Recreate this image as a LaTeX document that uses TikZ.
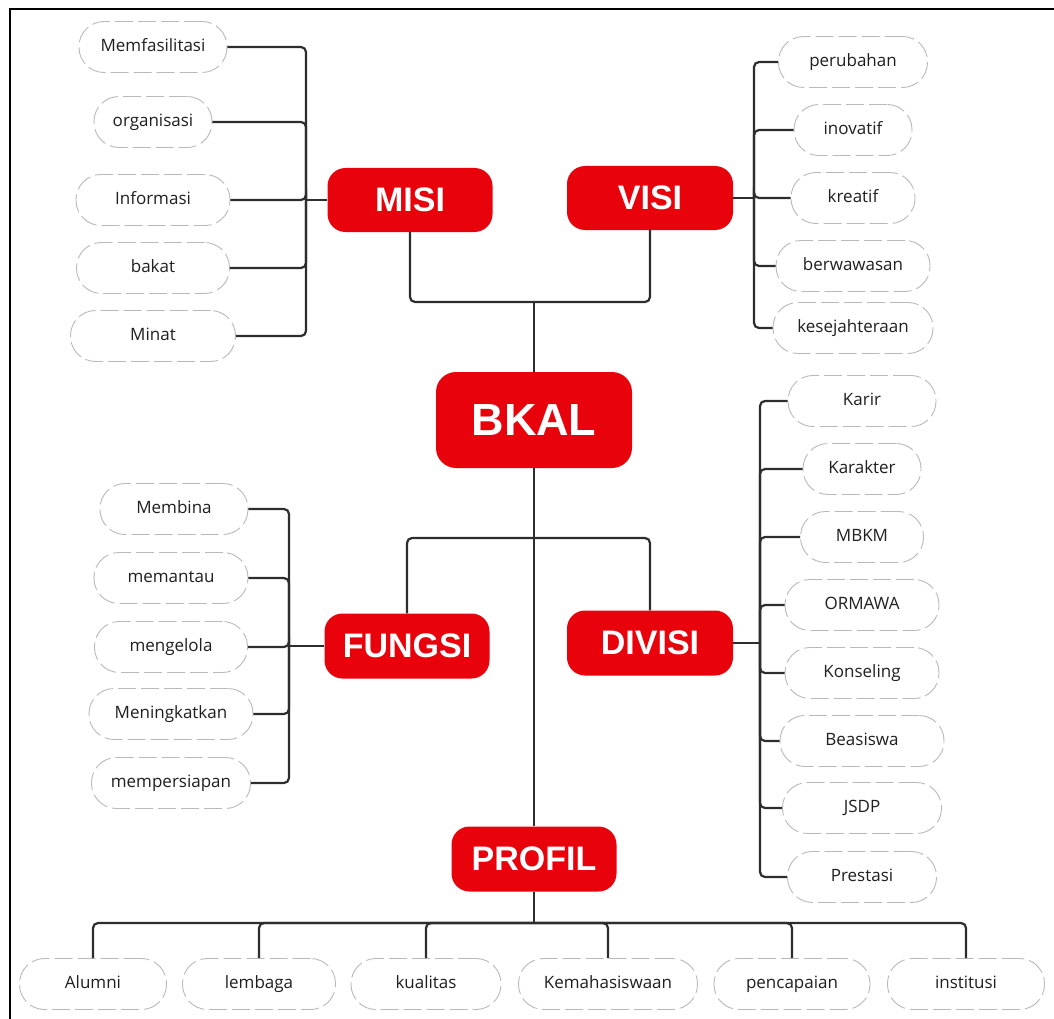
\documentclass[tikz,border=0pt]{standalone}
\usepackage{fontspec}
\setmainfont{Open Sans}
\newfontfamily\headfont{Liberation Sans}
\usepackage{tikz}
\definecolor{bkred}{RGB}{232,2,12}
\definecolor{linkgray}{RGB}{45,45,45}
\definecolor{leafgray}{RGB}{185,185,185}
\tikzstyle{topic}=[fill=bkred,draw=none,rounded corners=18pt,text=white,font=\headfont\bfseries\fontsize{34}{36}\selectfont,minimum height=64,minimum width=165,inner sep=0pt]
\tikzstyle{leaf}=[draw=leafgray,line width=0.9pt,dash pattern=on 18pt off 5pt,rounded corners=25pt,fill=white,text=black!88,font=\fontsize{17}{19}\selectfont,minimum height=51,inner sep=0pt,text height=12.5pt,text depth=4pt]
\tikzstyle{link}=[draw=linkgray,line width=2.2pt,rounded corners=5pt]

\begin{document}
\begin{tikzpicture}[x=1pt,y=-1pt]
\useasboundingbox (0,0) rectangle (1054,1019);
\draw[line width=2pt] (10,1025) -- (10,9) -- (1060,9);
% main boxes
\node[topic] (misi) at (410,200){MISI};
\node[topic,minimum width=166] (visi) at (650,198){VISI};
\node[topic,minimum width=196,minimum height=96,rounded corners=20pt,font=\headfont\bfseries\fontsize{45}{48}\selectfont] (bkal) at (534,420){BKAL};
\node[topic,minimum height=65] (fungsi) at (407,646){FUNGSI};
\node[topic,minimum width=166,minimum height=65] (divisi) at (650,643){DIVISI};
\node[topic,minimum height=65] (profil) at (534,859){PROFIL};
% misi
\node[leaf,minimum width=148] (memfasilitasi) at (153,47){Memfasilitasi};
\node[leaf,minimum width=118] (organisasi) at (153,122){organisasi};
\node[leaf,minimum width=154] (informasi) at (153,200){Informasi};
\node[leaf,minimum width=153] (bakat) at (153,268){bakat};
\node[leaf,minimum width=165] (minat) at (153,336){Minat};
% visi
\node[leaf,minimum width=149] (perubahan) at (853,62){perubahan};
\node[leaf,minimum width=118] (inovatif) at (853,130){inovatif};
\node[leaf,minimum width=124] (kreatif) at (853,198){kreatif};
\node[leaf,minimum width=154] (berwawasan) at (853,266){berwawasan};
\node[leaf,minimum width=160] (kesejahteraan) at (853,328){kesejahteraan};
% fungsi
\node[leaf,minimum width=148] (membina) at (174,509){Membina};
\node[leaf,minimum width=154] (memantau) at (171,578){memantau};
\node[leaf,minimum width=153] (mengelola) at (171,647){mengelola};
\node[leaf,minimum width=164] (meningkatkan) at (171,714){Meningkatkan};
\node[leaf,minimum width=159] (mempersiapan) at (171,783){mempersiapan};
% divisi
\node[leaf,minimum width=148] (karir) at (862,401){Karir};
\node[leaf,minimum width=118] (karakter) at (862,469){Karakter};
\node[leaf,minimum width=123] (mbkm) at (862,537){MBKM};
\node[leaf,minimum width=154] (ormawa) at (862,605){ORMAWA};
\node[leaf,minimum width=154] (konseling) at (862,673){Konseling};
\node[leaf,minimum width=164] (beasiswa) at (862,741){Beasiswa};
\node[leaf,minimum width=159] (jsdp) at (862,808){JSDP};
\node[leaf,minimum width=149] (prestasi) at (862,877){Prestasi};
% profil
\node[leaf,minimum width=147] (alumni) at (93,984){Alumni};
\node[leaf,minimum width=153] (lembaga) at (259,984){lembaga};
\node[leaf,minimum width=150] (kualitas) at (426,984){kualitas};
\node[leaf,minimum width=179] (kemahasiswaan) at (608,984){Kemahasiswaan};
\node[leaf,minimum width=156] (pencapaian) at (792,984){pencapaian};
\node[leaf,minimum width=157] (institusi) at (966,984){institusi};
% joints
\coordinate (topjoin) at (534,302);
\coordinate (midjoin) at (534,538);
\coordinate (busjoin) at (534,923);
\coordinate (misibar) at (306,200);
\coordinate (visibar) at (754,198);
\coordinate (fungsibar) at (289,646);
\coordinate (divisibar) at (760,643);
% trunk
\draw[link] (misi.south) |- (topjoin);
\draw[link] (visi.south) |- (topjoin);
\draw[link] (topjoin) -- (bkal.north);
\draw[link] (fungsi.north) |- (midjoin);
\draw[link] (divisi.north) |- (midjoin);
\draw[link] (bkal.south) -- (profil.north);
\draw[link] (profil.south) -- (busjoin);
% brackets
\draw[link] (misi.west) -- (misibar);
\foreach \n in {memfasilitasi,organisasi,informasi,bakat,minat}
  \draw[link] (\n.east) -| (misibar);
\draw[link] (visi.east) -- (visibar);
\foreach \n in {perubahan,inovatif,kreatif,berwawasan,kesejahteraan}
  \draw[link] (visibar) |- (\n.west);
\draw[link] (fungsi.west) -- (fungsibar);
\foreach \n in {membina,memantau,mengelola,meningkatkan,mempersiapan}
  \draw[link] (\n.east) -| (fungsibar);
\draw[link] (divisi.east) -- (divisibar);
\foreach \n in {karir,karakter,mbkm,ormawa,konseling,beasiswa,jsdp,prestasi}
  \draw[link] (divisibar) |- (\n.west);
\foreach \n in {alumni,lembaga,kualitas,kemahasiswaan,pencapaian,institusi}
  \draw[link] (busjoin) -| (\n.north);
\end{tikzpicture}
\end{document}
